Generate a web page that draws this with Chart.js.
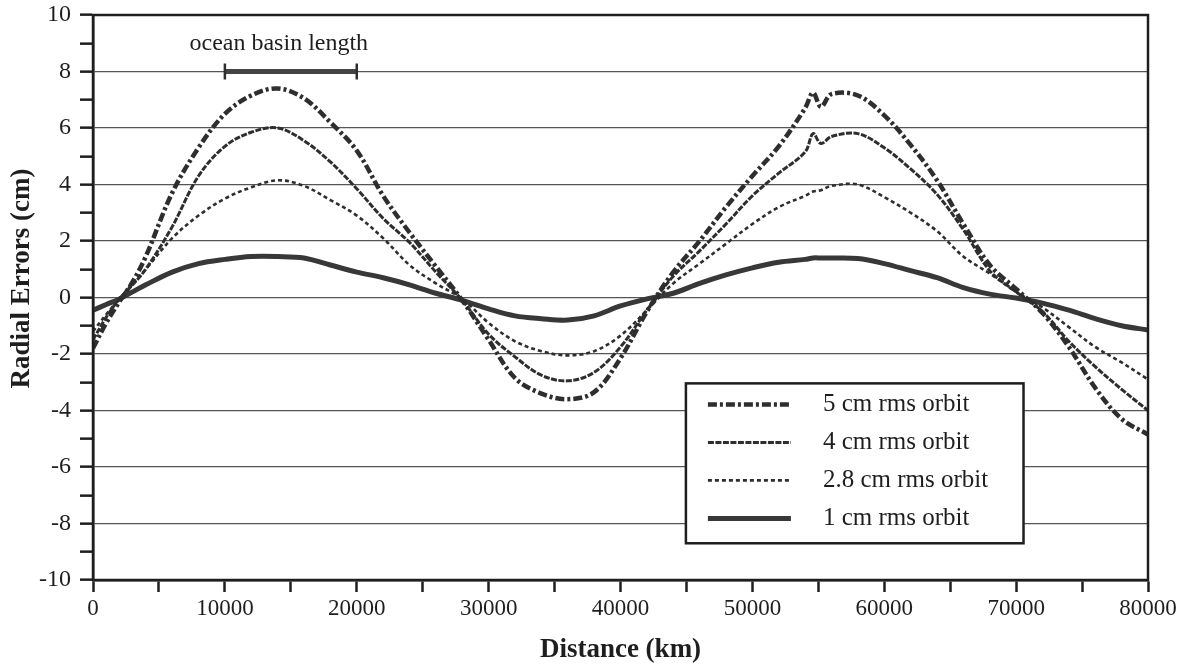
<!DOCTYPE html>
<html>
<head>
<meta charset="utf-8">
<script src="https://cdn.jsdelivr.net/npm/chart.js@4.4.1/dist/chart.umd.min.js"></script>
<style>
  html, body { margin: 0; padding: 0; background: #fff; }
  #wrap { width: 1183px; height: 666px; }
</style>
</head>
<body>
<div id="wrap"><canvas id="orbitChart" width="1183" height="666"></canvas></div>
<script>
// distance along track (km)
const distanceKm = [0, 1000, 2000, 3000, 4000, 6000, 8000, 10000, 12000, 14000, 16000, 18000, 20000,
    22000, 24000, 26000, 28000, 30000, 32000, 34000, 36000, 38000, 40000, 42000, 44000, 46000,
    48000, 50000, 52000, 54000, 54600, 55200, 56000, 58000, 60000, 62000, 64000, 66000, 68000,
    70000, 72000, 74000, 76000, 78000, 80000];

// radial errors (cm)
const orbit5cm = [-1.8, -0.9, -0.15, 0.55, 1.45, 3.7, 5.3, 6.5, 7.15, 7.4, 7.05, 6.2, 5.2,
    3.6, 2.3, 1.1, -0.1, -1.5, -2.85, -3.4, -3.6, -3.35, -2.15, -0.5, 0.9, 2.0,
    3.2, 4.3, 5.35, 6.7, 7.25, 6.75, 7.2, 7.15, 6.45, 5.4, 4.15, 2.6, 1.15,
    0.3, -0.55, -1.75, -3.2, -4.3, -4.85];
const orbit4cm = [-1.5, -0.7, -0.05, 0.45, 1.0, 2.5, 4.3, 5.35, 5.85, 6.0, 5.55, 4.8, 3.85,
    2.8, 1.95, 0.9, -0.1, -1.3, -2.1, -2.75, -2.95, -2.65, -1.75, -0.45, 0.75, 1.65,
    2.6, 3.6, 4.4, 5.15, 5.8, 5.45, 5.7, 5.8, 5.3, 4.55, 3.65, 2.4, 0.95,
    0.2, -0.5, -1.55, -2.45, -3.25, -4.0];
const orbit28cm = [-1.2, -0.6, -0.05, 0.5, 1.0, 2.1, 2.9, 3.5, 3.9, 4.15, 3.95, 3.45, 2.9,
    2.1, 1.15, 0.5, -0.05, -0.9, -1.55, -1.9, -2.05, -1.9, -1.35, -0.45, 0.5, 1.2,
    1.9, 2.6, 3.2, 3.6, 3.75, 3.8, 3.95, 4.0, 3.55, 3.0, 2.35, 1.45, 0.85,
    0.2, -0.35, -1.05, -1.75, -2.3, -2.9];
const orbit1cm = [-0.45, -0.25, -0.05, 0.2, 0.45, 0.9, 1.2, 1.35, 1.45, 1.45, 1.4, 1.15, 0.9,
    0.7, 0.45, 0.15, -0.1, -0.4, -0.65, -0.75, -0.8, -0.65, -0.3, -0.05, 0.15, 0.5,
    0.8, 1.05, 1.25, 1.35, 1.4, 1.4, 1.4, 1.38, 1.2, 0.95, 0.7, 0.35, 0.12,
    -0.02, -0.2, -0.45, -0.75, -1.0, -1.15];

// "ocean basin length" bar
const basinStartKm = 10000;
const basinEndKm = 20000;
const basinLevel = 8;
const basinLabel = "ocean basin length";

const seriesLabels = ["5 cm rms orbit", "4 cm rms orbit", "2.8 cm rms orbit", "1 cm rms orbit"];
const yAxisTitle = "Radial Errors (cm)";

const SERIF = "'Liberation Serif', 'DejaVu Serif', serif";
const INK = "#1e1e1e";

function toPoints(values) {
    return distanceKm.map((x, i) => ({ x: x, y: values[i] }));
}

function lineDataset(label, values, width, dash, color) {
    return {
        label: label,
        data: toPoints(values),
        borderColor: color,
        borderWidth: width,
        borderDash: dash,
        pointRadius: 0,
        tension: 0.35,
        fill: false,
        inLegendBox: true
    };
}

const legendBox = {
    id: 'legendBox',
    afterDraw(chart) {
        const { ctx, chartArea } = chart;
        const w = chartArea.right - chartArea.left;
        const h = chartArea.bottom - chartArea.top;
        const bx = chartArea.left + w * 0.562;
        const by = chartArea.top + h * 0.652;
        const bw = w * 0.32;
        const bh = h * 0.283;

        ctx.save();
        ctx.fillStyle = '#fff';
        ctx.fillRect(bx, by, bw, bh);
        ctx.strokeStyle = INK;
        ctx.lineWidth = 2.5;
        ctx.strokeRect(bx, by, bw, bh);

        const items = chart.data.datasets.filter(d => d.inLegendBox);
        items.forEach((ds, i) => {
            const cy = by + 21 + i * 38;
            ctx.beginPath();
            ctx.setLineDash(ds.borderDash || []);
            ctx.lineWidth = ds.borderWidth;
            ctx.strokeStyle = ds.borderColor;
            ctx.moveTo(bx + 22, cy);
            ctx.lineTo(bx + 105, cy);
            ctx.stroke();
            ctx.setLineDash([]);
            ctx.fillStyle = INK;
            ctx.font = "25px " + SERIF;
            ctx.textBaseline = 'middle';
            ctx.textAlign = 'left';
            ctx.fillText(ds.label, bx + 137, cy);
        });
        ctx.restore();
    }
};

const frameAndNotes = {
    id: 'frameAndNotes',
    afterDatasetsDraw(chart) {
        const { ctx, chartArea, scales } = chart;
        ctx.save();
        ctx.strokeStyle = INK;
        ctx.lineWidth = 2.5;
        ctx.strokeRect(chartArea.left, chartArea.top, chartArea.right - chartArea.left, chartArea.bottom - chartArea.top);

        const mid = scales.x.getPixelForValue((basinStartKm + basinEndKm) / 2) - 12;
        const ty = scales.y.getPixelForValue(basinLevel) - 28;
        ctx.fillStyle = INK;
        ctx.font = "24px " + SERIF;
        ctx.textAlign = 'center';
        ctx.textBaseline = 'middle';
        ctx.fillText(basinLabel, mid, ty);

        // y axis title, sits a little above the axis centre in the original
        ctx.translate(22, (chartArea.top + chartArea.bottom) / 2 - 19);
        ctx.rotate(-Math.PI / 2);
        ctx.font = "bold 27px " + SERIF;
        ctx.fillText(yAxisTitle, 0, 0);
        ctx.restore();
    }
};

function initChart() {
    const ctx = document.getElementById('orbitChart').getContext('2d');

    new Chart(ctx, {
        type: 'line',
        data: {
            datasets: [
                lineDataset(seriesLabels[0], orbit5cm, 4.5, [9, 3, 3, 3], '#2e2e2e'),
                lineDataset(seriesLabels[1], orbit4cm, 3, [6, 1.5], '#2e2e2e'),
                lineDataset(seriesLabels[2], orbit28cm, 2.6, [4, 3], '#2e2e2e'),
                lineDataset(seriesLabels[3], orbit1cm, 5, [], '#383838'),
                {
                    label: basinLabel,
                    data: [{ x: basinStartKm, y: basinLevel }, { x: basinEndKm, y: basinLevel }],
                    borderColor: '#444',
                    borderWidth: 5,
                    pointStyle: 'line',
                    rotation: 90,
                    pointRadius: 8,
                    pointBorderWidth: 2.5,
                    pointBorderColor: '#2e2e2e',
                    tension: 0
                }
            ]
        },
        options: {
            responsive: false,
            animation: false,
            events: [],
            layout: { padding: { top: 15, right: 35, left: 0, bottom: 0 } },
            plugins: {
                legend: { display: false },
                tooltip: { enabled: false }
            },
            scales: {
                x: {
                    type: 'linear',
                    min: 0,
                    max: 80000,
                    afterFit(scale) { scale.height = 86; },
                    ticks: {
                        stepSize: 5000,
                        autoSkip: false,
                        maxRotation: 0,
                        color: INK,
                        padding: 3,
                        font: { family: SERIF, size: 23 },
                        callback: v => (v % 10000 === 0 ? String(v) : '')
                    },
                    grid: {
                        drawOnChartArea: false,
                        drawTicks: true,
                        tickLength: 12,
                        tickWidth: 2.5,
                        tickColor: INK
                    },
                    border: { color: INK, width: 2.5 },
                    title: {
                        display: true,
                        text: 'Distance (km)',
                        color: INK,
                        font: { family: SERIF, size: 27, weight: 'bold' },
                        padding: { top: 6, bottom: 0 }
                    }
                },
                y: {
                    min: -10,
                    max: 10,
                    afterFit(scale) {
                        scale.width = 93;
                        scale.paddingTop = 0;
                        scale.paddingBottom = 0;
                    },
                    ticks: {
                        stepSize: 1,
                        autoSkip: false,
                        color: INK,
                        padding: 9,
                        font: { family: SERIF, size: 24 },
                        callback: v => (v % 2 === 0 ? String(v) : '')
                    },
                    grid: {
                        color: c => (c.tick && c.tick.value % 2 === 0 ? '#555' : 'rgba(0,0,0,0)'),
                        lineWidth: 1.3,
                        tickLength: 13,
                        tickWidth: 2.5,
                        tickColor: INK
                    },
                    border: { color: INK, width: 2.5 },
                    title: { display: false }
                }
            }
        },
        plugins: [frameAndNotes, legendBox]
    });
}

document.addEventListener("DOMContentLoaded", initChart);
</script>
</body>
</html>
